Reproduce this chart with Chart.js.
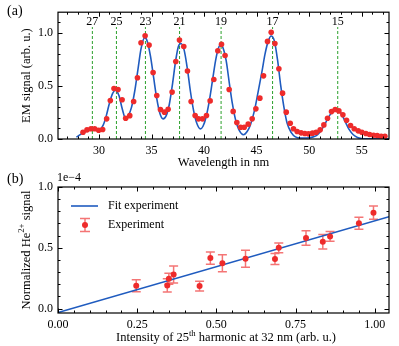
<!DOCTYPE html>
<html><head><meta charset="utf-8">
<script src="https://cdn.jsdelivr.net/npm/chart.js@4/dist/chart.umd.min.js"></script>
<style>
html,body{margin:0;padding:0;background:#fff;}
#wrap{position:relative;width:399px;height:346px;overflow:hidden;}
canvas{position:absolute;left:0;}
#ca{top:0;} #cb{top:170px;}
</style></head><body>
<div id="wrap"><canvas id="ca" width="399" height="170"></canvas><canvas id="cb" width="399" height="176"></canvas></div>
<script>
// ---------- data (panel a) ----------
const harmonicOrders = [27, 25, 23, 21, 19, 17, 15];
const harmonicWavelengths = [29.37, 31.66, 34.42, 37.67, 41.62, 46.52, 52.72];
const emWavelength = [28.48,28.86,29.24,29.59,29.97,30.35,30.73,31.08,31.43,31.81,32.2,32.54,32.93,33.3,33.66,34.0,34.39,34.77,35.15,35.5,35.85,36.23,36.58,36.96,37.31,37.66,38.07,38.42,38.77,39.15,39.47,39.85,40.23,40.58,40.93,41.31,41.66,42.0,42.39,42.77,43.12,43.47,43.82,44.2,44.58,44.93,45.31,45.66,46.04,46.39,46.74,47.12,47.47,47.82,48.2,48.51,48.86,49.24,49.59,49.94,50.32,50.67,51.05,51.4,51.75,52.13,52.48,52.83,53.21,53.56,53.94,54.29,54.67,55.02,55.4,55.75,56.13,56.48,56.86,57.21];
const emSignal = [0.064,0.086,0.096,0.096,0.083,0.089,0.19,0.362,0.476,0.467,0.37,0.196,0.22,0.354,0.577,0.907,0.973,0.885,0.627,0.41,0.278,0.253,0.281,0.442,0.731,0.932,0.872,0.64,0.354,0.221,0.19,0.19,0.221,0.359,0.561,0.832,0.892,0.787,0.467,0.26,0.156,0.111,0.111,0.14,0.19,0.284,0.385,0.595,0.92,1.005,0.9,0.662,0.432,0.253,0.149,0.096,0.07,0.058,0.052,0.048,0.055,0.064,0.086,0.133,0.196,0.258,0.278,0.265,0.228,0.177,0.127,0.096,0.077,0.064,0.052,0.042,0.036,0.033,0.026,0.026];
const fitWavelength = [27.85,28.5,29.0,29.4,29.8,30.1,30.4,30.7,31.0,31.3,31.55,31.9,32.2,32.55,32.8,33.1,33.4,33.7,34.0,34.35,34.6,34.9,35.2,35.5,35.8,36.1,36.4,36.7,37.0,37.3,37.55,37.8,38.1,38.4,38.7,39.0,39.3,39.65,39.9,40.2,40.5,40.8,41.1,41.35,41.58,41.8,42.1,42.4,42.7,43.0,43.3,43.75,44.1,44.4,44.8,45.1,45.5,45.8,46.1,46.38,46.7,47.0,47.3,47.6,47.9,48.3,48.7,49.2,49.8,50.4,50.8,51.2,51.6,52.0,52.35,52.62,53.0,53.4,53.8,54.2,54.6,55.0,55.5,56.5,57.6];
const fitSignal = [0.017,0.06,0.08,0.09,0.085,0.09,0.13,0.22,0.34,0.43,0.46,0.41,0.29,0.19,0.22,0.3,0.45,0.65,0.85,0.955,0.92,0.78,0.58,0.38,0.24,0.19,0.22,0.33,0.52,0.74,0.87,0.9,0.84,0.67,0.45,0.27,0.15,0.095,0.12,0.21,0.36,0.55,0.74,0.85,0.89,0.86,0.74,0.53,0.33,0.18,0.09,0.04,0.07,0.13,0.27,0.42,0.63,0.8,0.92,0.97,0.92,0.74,0.5,0.3,0.15,0.06,0.02,0.01,0.01,0.02,0.04,0.09,0.16,0.23,0.27,0.278,0.25,0.17,0.09,0.04,0.015,0.005,0.002,0.001,0.001];

// ---------- data (panel b), signal in units of 1e-4 ----------
const intensity25 = [0.247,0.345,0.35,0.365,0.447,0.481,0.519,0.592,0.685,0.697,0.783,0.836,0.859,0.95,0.996];
const heSignal = [0.187,0.19,0.245,0.28,0.185,0.415,0.372,0.41,0.407,0.499,0.58,0.55,0.593,0.702,0.789];
const heError = [0.05,0.055,0.045,0.07,0.04,0.05,0.07,0.07,0.045,0.04,0.06,0.06,0.04,0.05,0.055];
const fitIntensity = [0, 1.045];
const fitHe = [-0.033, 0.756];

// ---------- styles ----------
const FONT = "'Liberation Serif','Times New Roman',serif";
const RED = '#ee2b2b';
const RED_ERR = 'rgba(238,43,43,0.65)';
const BLUE = '#1f5bbf';
const GREEN = '#2ca02c';
Chart.defaults.font.family = FONT;
Chart.defaults.font.size = 12;
Chart.defaults.color = '#000';
Chart.defaults.animation = false;

function f(size){ return size + 'px ' + FONT; }

function drawRich(ctx, parts, cx, cy, size, align) {
  const sup = size * 0.7;
  let w = 0;
  parts.forEach(p => { ctx.font = f(p.sup ? sup : size); p.w = ctx.measureText(p.t).width; w += p.w; });
  let x = align === 'left' ? cx : cx - w / 2;
  ctx.textBaseline = 'middle';
  ctx.textAlign = 'left';
  parts.forEach(p => {
    ctx.font = f(p.sup ? sup : size);
    ctx.fillText(p.t, x, p.sup ? cy - size * 0.35 : cy);
    x += p.w;
  });
}

function frameAndTicks(chart, o) {
  const {ctx, chartArea: a} = chart;
  const xs = chart.scales.x, ys = chart.scales.y;
  ctx.save();
  ctx.strokeStyle = '#000';
  ctx.lineWidth = 1;
  const loop = (s, minor, major, fn) => {
    const i0 = Math.ceil((s.min - 1e-9) / minor), i1 = Math.floor((s.max + 1e-9) / minor);
    for (let i = i0; i <= i1; i++) {
      const v = i * minor;
      const isMajor = Math.abs(v / major - Math.round(v / major)) < 1e-6;
      fn(Math.round(s.getPixelForValue(v)) + 0.5, isMajor ? 4.5 : 2.5);
    }
  };
  ctx.beginPath();
  loop(xs, o.xMinor, o.xMajor, (p, L) => { ctx.moveTo(p, a.bottom); ctx.lineTo(p, a.bottom - L); ctx.moveTo(p, a.top); ctx.lineTo(p, a.top + L); });
  loop(ys, o.yMinor, o.yMajor, (p, L) => { ctx.moveTo(a.left, p); ctx.lineTo(a.left + L, p); ctx.moveTo(a.right, p); ctx.lineTo(a.right - L, p); });
  ctx.stroke();
  ctx.lineWidth = 1.2;
  ctx.strokeRect(a.left, a.top, a.right - a.left, a.bottom - a.top);
  ctx.restore();
}

// ---------- panel (a) ----------
const harmonicLineTop = 1.055;
const harmonicLabelLevel = 1.1;
const harmonicDatasets = harmonicWavelengths.map(w => ({
  type: 'line', data: [{x: w, y: 0}, {x: w, y: harmonicLineTop}],
  borderColor: GREEN, borderWidth: 1, borderDash: [3, 2], pointRadius: 0, order: 3
}));

const panelA = {
  id: 'panelA',
  afterDraw(chart) {
    const {ctx, chartArea: a} = chart;
    frameAndTicks(chart, {xMajor: 5, xMinor: 1, yMajor: 0.5, yMinor: 0.1});
    ctx.save();
    ctx.fillStyle = '#000';
    ctx.textAlign = 'center'; ctx.textBaseline = 'middle';
    ctx.font = f(12);
    harmonicWavelengths.forEach((w, i) => {
      ctx.fillText(String(harmonicOrders[i]), chart.scales.x.getPixelForValue(w), chart.scales.y.getPixelForValue(harmonicLabelLevel));
    });
    ctx.font = f(12.5);
    ctx.fillText('Wavelength in nm', (a.left + a.right) / 2, 163);
    ctx.save();
    ctx.translate(26.5, (a.top + a.bottom) / 2);
    ctx.rotate(-Math.PI / 2);
    ctx.font = f(12.5);
    ctx.fillText('EM signal (arb. u.)', 0, 0);
    ctx.restore();
    ctx.font = f(14);
    ctx.textAlign = 'left';
    ctx.fillText('(a)', 7, 11);
    ctx.restore();
  }
};

const noGrid = {display: false, drawTicks: false, tickLength: 0};

new Chart(document.getElementById('ca'), {
  type: 'scatter',
  data: {
    datasets: [
      {label: 'Experiment', data: emWavelength.map((x, i) => ({x, y: emSignal[i]})),
       backgroundColor: RED, borderColor: RED, pointRadius: 2.8, pointBorderWidth: 0, order: 0},
      {type: 'line', label: 'Fit', data: fitWavelength.map((x, i) => ({x, y: fitSignal[i]})),
       borderColor: BLUE, borderWidth: 1.6, pointRadius: 0, cubicInterpolationMode: 'monotone', order: 1},
      ...harmonicDatasets
    ]
  },
  options: {
    responsive: false, devicePixelRatio: 1,
    layout: {padding: {top: 12, right: 10, left: 0, bottom: 0}},
    plugins: {legend: {display: false}, tooltip: {enabled: false}},
    scales: {
      x: {type: 'linear', min: 26.1, max: 57.6,
          grid: noGrid, border: {display: false},
          ticks: {stepSize: 5, includeBounds: false, padding: 5, maxRotation: 0, autoSkip: false, font: {size: 12}},
          afterFit(s) { s.height = 31; }},
      y: {type: 'linear', min: 0, max: 1.195,
          grid: noGrid, border: {display: false},
          ticks: {stepSize: 0.5, includeBounds: false, padding: 5, font: {size: 12}, callback: v => v.toFixed(1)},
          afterFit(s) { s.width = 58; }}
    }
  },
  plugins: [panelA]
});

// ---------- panel (b) ----------
const panelB = {
  id: 'panelB',
  beforeDatasetsDraw(chart) {
    const {ctx} = chart;
    const xs = chart.scales.x, ys = chart.scales.y;
    ctx.save();
    ctx.strokeStyle = RED_ERR; ctx.lineWidth = 1.5;
    ctx.beginPath();
    intensity25.forEach((v, i) => {
      const px = xs.getPixelForValue(v);
      const t = ys.getPixelForValue(heSignal[i] + heError[i]);
      const b = ys.getPixelForValue(heSignal[i] - heError[i]);
      ctx.moveTo(px, t); ctx.lineTo(px, b);
      ctx.moveTo(px - 4.5, t); ctx.lineTo(px + 4.5, t);
      ctx.moveTo(px - 4.5, b); ctx.lineTo(px + 4.5, b);
    });
    ctx.stroke();
    ctx.restore();
  },
  afterDraw(chart) {
    const {ctx, chartArea: a} = chart;
    frameAndTicks(chart, {xMajor: 0.25, xMinor: 0.05, yMajor: 0.5, yMinor: 0.1});
    ctx.save();
    ctx.fillStyle = '#000';
    // legend
    ctx.strokeStyle = BLUE; ctx.lineWidth = 1.6;
    ctx.beginPath(); ctx.moveTo(71, 36); ctx.lineTo(98, 36); ctx.stroke();
    ctx.strokeStyle = RED_ERR; ctx.lineWidth = 1.5;
    ctx.beginPath();
    ctx.moveTo(85, 48.5); ctx.lineTo(85, 61.5);
    ctx.moveTo(80, 48.5); ctx.lineTo(90, 48.5);
    ctx.moveTo(80, 61.5); ctx.lineTo(90, 61.5);
    ctx.stroke();
    ctx.fillStyle = RED;
    ctx.beginPath(); ctx.arc(85, 55, 3, 0, Math.PI * 2); ctx.fill();
    ctx.fillStyle = '#000';
    ctx.textAlign = 'left'; ctx.textBaseline = 'middle';
    ctx.font = f(12);
    ctx.fillText('Fit experiment', 108, 36);
    ctx.fillText('Experiment', 108, 55);
    // offset text
    ctx.fillText('1e\u22124', 57, 8);
    // titles
    drawRich(ctx, [{t: 'Intensity of 25'}, {t: 'th', sup: true}, {t: ' harmonic at 32 nm (arb. u.)'}], 226, 168, 12.5);
    ctx.save();
    ctx.translate(26.5, (a.top + a.bottom) / 2);
    ctx.rotate(-Math.PI / 2);
    drawRich(ctx, [{t: 'Normalized He'}, {t: '2+', sup: true}, {t: ' signal'}], 0, 0, 12.5);
    ctx.restore();
    ctx.font = f(14);
    ctx.textAlign = 'left'; ctx.textBaseline = 'middle';
    ctx.fillText('(b)', 7, 9);
    ctx.restore();
  }
};

new Chart(document.getElementById('cb'), {
  type: 'scatter',
  data: {
    datasets: [
      {label: 'Experiment', data: intensity25.map((x, i) => ({x, y: heSignal[i]})),
       backgroundColor: RED, borderColor: RED, pointRadius: 3, pointBorderWidth: 0, order: 0},
      {type: 'line', label: 'Fit experiment', data: fitIntensity.map((x, i) => ({x, y: fitHe[i]})),
       borderColor: BLUE, borderWidth: 1.6, pointRadius: 0, order: 1}
    ]
  },
  options: {
    responsive: false, devicePixelRatio: 1,
    layout: {padding: {top: 17, right: 10, left: 0, bottom: 0}},
    plugins: {legend: {display: false}, tooltip: {enabled: false}},
    scales: {
      x: {type: 'linear', min: 0, max: 1.045,
          grid: noGrid, border: {display: false},
          ticks: {stepSize: 0.25, includeBounds: false, padding: 5, maxRotation: 0, autoSkip: false, font: {size: 12}, callback: v => v.toFixed(2)},
          afterFit(s) { s.height = 33; }},
      y: {type: 'linear', min: -0.037, max: 1.0,
          grid: noGrid, border: {display: false},
          ticks: {stepSize: 0.5, includeBounds: false, padding: 5, font: {size: 12}, callback: v => v.toFixed(1)},
          afterFit(s) { s.width = 58; }}
    }
  },
  plugins: [panelB]
});
</script>
</body></html>
